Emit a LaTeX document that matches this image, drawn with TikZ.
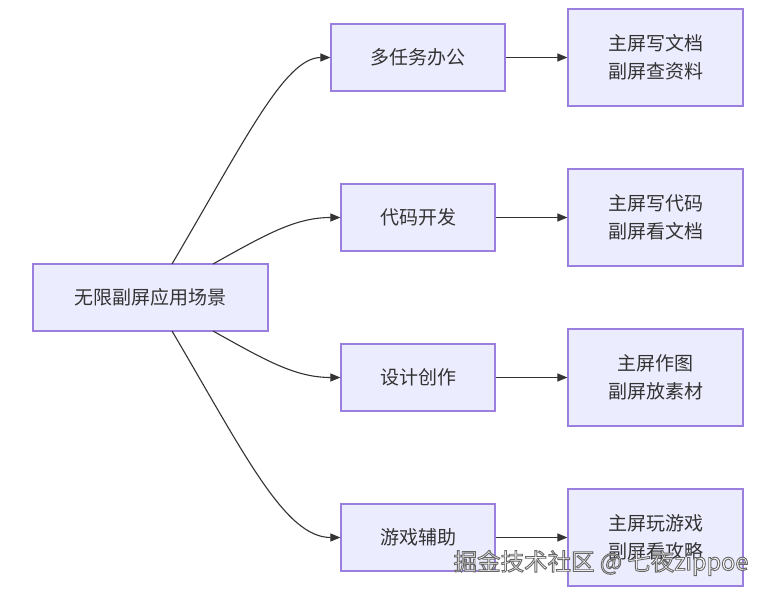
\documentclass[tikz,border=0pt]{standalone}
\usepackage{fontspec}
\setmainfont{Noto Sans CJK SC}
\usetikzlibrary{arrows.meta}
\definecolor{nodefill}{HTML}{ECECFF}
\definecolor{nodeborder}{HTML}{9B7FDE}
\definecolor{linec}{HTML}{333333}
\tikzset{
  box/.style={draw=nodeborder, fill=nodefill, line width=1.2pt, text=linec,
    font=\fontsize{19}{28}\selectfont, align=center, inner sep=0pt, anchor=center},
  conn/.style={draw=linec, line width=1.1pt, -{Triangle[length=10pt,width=8pt]}},
  wm/.style={font=\fontsize{23.5}{26}\selectfont, anchor=center}
}
\begin{document}
\begin{tikzpicture}[x=1pt,y=-1pt]
\useasboundingbox (0,0) rectangle (769,596);
\fill[white] (0,0) rectangle (769,596);
% root
\node[box, minimum width=235pt, minimum height=67pt] (root) at (150.5,297.5) {无限副屏应用场景};
% middle
\node[box, minimum width=174pt, minimum height=67pt] (m1) at (418,57.5) {多任务办公};
\node[box, minimum width=154pt, minimum height=67pt] (m2) at (418,217.5) {代码开发};
\node[box, minimum width=154pt, minimum height=67pt] (m3) at (418,377.5) {设计创作};
\node[box, minimum width=154pt, minimum height=67pt] (m4) at (418,537.5) {游戏辅助};
% right
\node[box, minimum width=175pt, minimum height=97pt] (r1) at (655.5,57.5) {主屏写文档\\副屏查资料};
\node[box, minimum width=175pt, minimum height=97pt] (r2) at (655.5,217.5) {主屏写代码\\副屏看文档};
\node[box, minimum width=175pt, minimum height=97pt] (r3) at (655.5,377.5) {主屏作图\\副屏放素材};
\node[box, minimum width=175pt, minimum height=97pt] (r4) at (655.5,537.5) {主屏玩游戏\\副屏看攻略};
% connectors root -> middle
\coordinate (s1) at (172,264);
\coordinate (s2) at (213,264);
\coordinate (s3) at (213,331);
\coordinate (s4) at (172,331);
\draw[conn] (s1) .. controls (245,140) and (285,57.5) .. (m1.west);
\draw[conn] (s2) .. controls (265,235) and (295,217.5) .. (m2.west);
\draw[conn] (s3) .. controls (265,360) and (295,377.5) .. (m3.west);
\draw[conn] (s4) .. controls (245,455) and (285,537.5) .. (m4.west);
% middle -> right
\draw[conn] (m1.east) -- (r1.west);
\draw[conn] (m2.east) -- (r2.west);
\draw[conn] (m3.east) -- (r3.west);
\draw[conn] (m4.east) -- (r4.west);
% watermark (white letters, grey outline)
\node[wm, text=white] (wmk) at (601,563) {\special{pdf:code q 2 Tr 0.9 w 0.4 0.4 0.4 RG}掘金技术社区 @ 七夜zippoe\special{pdf:code Q}};
\end{tikzpicture}
\end{document}
